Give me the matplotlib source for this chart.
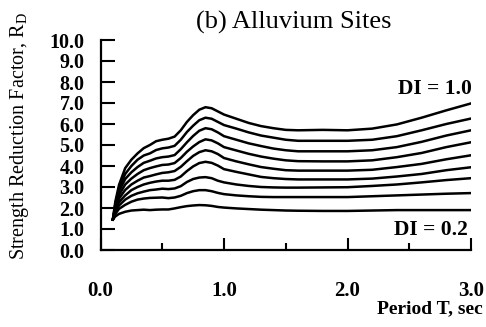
import matplotlib
matplotlib.use("Agg")
import matplotlib.pyplot as plt
from matplotlib.ticker import FixedLocator

plt.rcParams['font.family'] = ['Liberation Serif', 'DejaVu Serif']

# Period values (sec)
period = [0.10, 0.12, 0.15, 0.20, 0.25, 0.30, 0.35, 0.40, 0.45, 0.50, 0.55,
          0.60, 0.65, 0.70, 0.75, 0.80, 0.85, 0.90, 0.95, 1.00, 1.10, 1.20,
          1.30, 1.40, 1.50, 1.60, 1.80, 2.00, 2.20, 2.40, 2.60, 2.80, 3.00]

# Strength reduction factor R_D for each damage index DI
rd_di10 = [1.45, 2.3, 3.1, 3.9, 4.3, 4.6, 4.85, 5.0, 5.18, 5.25, 5.3, 5.4, 5.7, 6.1, 6.42, 6.68, 6.8,
           6.75, 6.6, 6.45, 6.25, 6.05, 5.9, 5.8, 5.72, 5.7, 5.72, 5.7, 5.78, 5.98, 6.3, 6.65, 6.98]
rd_di09 = [1.45, 2.2, 2.95, 3.62, 4.0, 4.3, 4.5, 4.6, 4.76, 4.84, 4.88, 4.96, 5.25, 5.62, 5.92, 6.18, 6.3,
           6.25, 6.1, 5.95, 5.78, 5.6, 5.45, 5.35, 5.25, 5.2, 5.2, 5.2, 5.25, 5.42, 5.7, 6.0, 6.26]
rd_di08 = [1.45, 2.1, 2.8, 3.38, 3.7, 3.95, 4.15, 4.25, 4.36, 4.42, 4.45, 4.52, 4.8, 5.13, 5.43, 5.68, 5.8,
           5.75, 5.6, 5.42, 5.25, 5.08, 4.95, 4.83, 4.75, 4.7, 4.7, 4.7, 4.75, 4.9, 5.15, 5.45, 5.7]
rd_di07 = [1.45, 2.0, 2.62, 3.12, 3.4, 3.62, 3.8, 3.9, 3.98, 4.05, 4.07, 4.14, 4.38, 4.68, 4.93, 5.14, 5.27,
           5.22, 5.08, 4.9, 4.74, 4.58, 4.45, 4.35, 4.27, 4.23, 4.22, 4.22, 4.27, 4.42, 4.62, 4.9, 5.13]
rd_di06 = [1.45, 1.95, 2.45, 2.86, 3.12, 3.3, 3.45, 3.52, 3.6, 3.67, 3.7, 3.76, 3.96, 4.23, 4.48, 4.66, 4.75,
           4.7, 4.57, 4.38, 4.22, 4.08, 3.95, 3.87, 3.8, 3.78, 3.78, 3.78, 3.82, 3.95, 4.1, 4.32, 4.51]
rd_di05 = [1.45, 1.88, 2.28, 2.6, 2.85, 3.0, 3.12, 3.2, 3.26, 3.3, 3.3, 3.34, 3.5, 3.76, 3.98, 4.14, 4.2,
           4.15, 4.02, 3.85, 3.72, 3.6, 3.48, 3.42, 3.38, 3.36, 3.36, 3.36, 3.4, 3.5, 3.62, 3.8, 3.94]
rd_di04 = [1.45, 1.8, 2.12, 2.4, 2.58, 2.7, 2.78, 2.85, 2.88, 2.92, 2.9, 2.93, 3.04, 3.24, 3.38, 3.45, 3.47,
           3.42, 3.3, 3.22, 3.12, 3.05, 3.0, 2.98, 2.97, 2.97, 2.98, 2.99, 3.05, 3.12, 3.22, 3.33, 3.42]
rd_di03 = [1.45, 1.72, 1.96, 2.15, 2.3, 2.4, 2.45, 2.48, 2.49, 2.5, 2.47, 2.5, 2.58, 2.71, 2.8, 2.85, 2.85,
           2.8, 2.72, 2.66, 2.6, 2.56, 2.53, 2.52, 2.52, 2.52, 2.52, 2.52, 2.56, 2.6, 2.64, 2.68, 2.71]
rd_di02 = [1.45, 1.6, 1.72, 1.82, 1.88, 1.9, 1.92, 1.9, 1.92, 1.93, 1.93, 1.98, 2.04, 2.09, 2.12, 2.14, 2.13,
           2.1, 2.05, 2.02, 1.98, 1.95, 1.92, 1.9, 1.88, 1.87, 1.86, 1.86, 1.88, 1.9, 1.9, 1.9, 1.9]

series = [rd_di02, rd_di03, rd_di04, rd_di05, rd_di06, rd_di07, rd_di08, rd_di09, rd_di10]

y_ticks = [0, 1, 2, 3, 4, 5, 6, 7, 8, 9, 10]
y_ticklabels = ["0.0", "1.0", "2.0", "3.0", "4.0", "5.0", "6.0", "7.0", "8.0", "9.0", "10.0"]
x_ticks = [0, 1, 2, 3]
x_ticklabels = ["0.0", "1.0", "2.0", "3.0"]
x_minor = [0.5, 1.5, 2.5]

fig = plt.figure(figsize=(4.86, 3.27), dpi=100)
ax = fig.add_axes([100.5 / 486, 77 / 327, 370.5 / 486, 210 / 327])

for s in series:
    ax.plot(period, s, color='black', lw=1.8, solid_joinstyle='round')

ax.set_xlim(0, 3)
ax.set_ylim(0, 10)
ax.spines['top'].set_visible(False)
ax.spines['right'].set_visible(False)
for sp in ('left', 'bottom'):
    ax.spines[sp].set_linewidth(1.6)

ax.set_yticks(y_ticks)
ax.set_yticklabels(y_ticklabels)
ax.set_xticks(x_ticks)
ax.set_xticklabels(x_ticklabels)
ax.xaxis.set_minor_locator(FixedLocator(x_minor))

ax.tick_params(axis='y', which='major', direction='in', length=10, width=1.5,
               pad=11.5, labelsize=14.5)
ax.tick_params(axis='x', which='major', direction='in', length=9, width=1.5,
               pad=22, labelsize=15)
ax.tick_params(axis='x', which='minor', direction='in', length=5, width=1.5)
for lab in ax.get_xticklabels() + ax.get_yticklabels():
    lab.set_fontweight('bold')

ax.text(3.01, 7.65, "DI = 1.0", ha='right', va='center', fontsize=15.5, fontweight='bold')
ax.text(2.97, 0.95, "DI = 0.2", ha='right', va='center', fontsize=15.5, fontweight='bold')

fig.text(294 / 486, 1 - 22 / 327, "(b) Alluvium Sites", ha='center', va='center', fontsize=19)
fig.text(20 / 486, 1 - 136 / 327, "Strength Reduction Factor, R$_{\\mathregular{D}}$",
         rotation=90, ha='center', va='center', fontsize=14.5)
fig.text(483 / 486, 1 - 308.5 / 327, "Period T, sec", ha='right', va='center',
         fontsize=14, fontweight='bold')

fig.savefig("out.png", dpi=100)
